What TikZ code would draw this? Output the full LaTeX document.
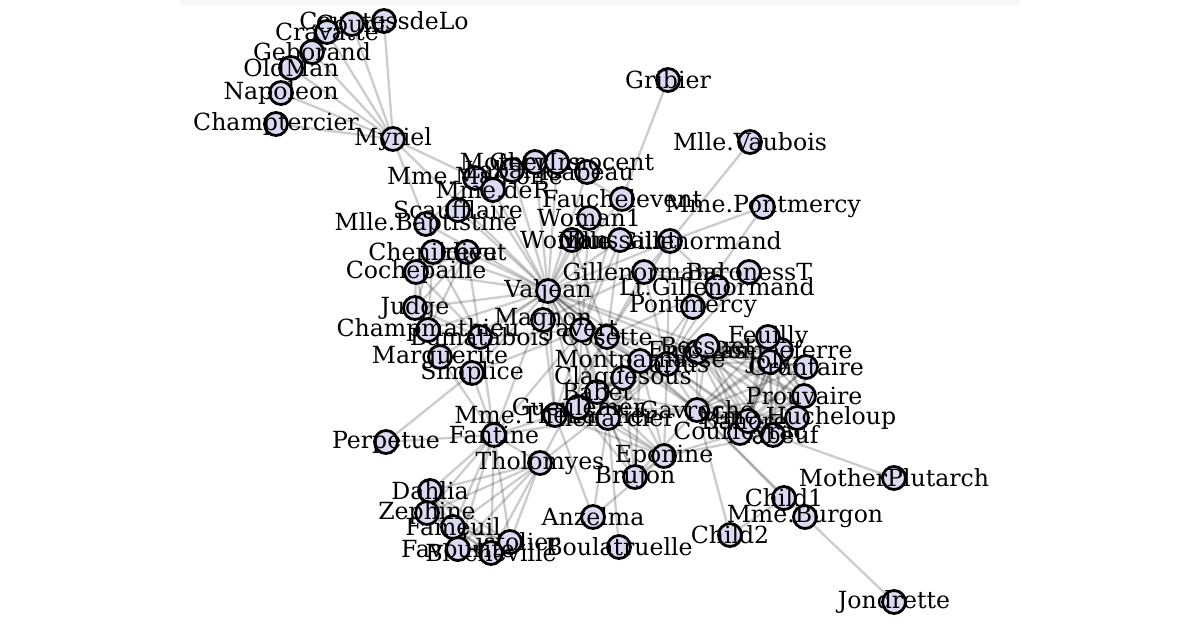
\documentclass[tikz,border=0pt]{standalone}
\usepackage{fontspec}
\setmainfont{DejaVu Serif}
\usetikzlibrary{backgrounds}
\definecolor{personfill}{RGB}{218,218,242}
\tikzset{
  person/.style={circle,draw=black,line width=1.4pt,fill=personfill,minimum size=11.5pt,inner sep=0pt},
  link/.style={draw=black,opacity=0.2,line width=1.15pt},
  every label/.style={font=\fontsize{11.8}{14}\selectfont,inner sep=0pt}
}
\begin{document}
\begin{tikzpicture}[x=0.5pt,y=-0.5pt]
  \useasboundingbox (0,0) rectangle (1200,630);

  % characters
  \node[person,label={center:Myriel}] (Myriel) at (393,139) {};
  \node[person,label={center:Napoleon}] (Napoleon) at (281,93) {};
  \node[person,label={center:Mlle.Baptistine}] (MlleBaptistine) at (426,224) {};
  \node[person,label={center:Mme.Magloire}] (MmeMagloire) at (475,178) {};
  \node[person,label={center:CountessdeLo}] (CountessdeLo) at (384,21) {};
  \node[person,label={center:Geborand}] (Geborand) at (312,52) {};
  \node[person,label={center:Champtercier}] (Champtercier) at (276,124) {};
  \node[person,label={center:Cravatte}] (Cravatte) at (327,32) {};
  \node[person,label={center:Count}] (Count) at (352,24) {};
  \node[person,label={center:OldMan}] (OldMan) at (291,68) {};
  \node[person,label={center:Labarre}] (Labarre) at (512,170) {};
  \node[person,label={center:Valjean}] (Valjean) at (548,291) {};
  \node[person,label={center:Marguerite}] (Marguerite) at (440,357) {};
  \node[person,label={center:Mme.deR}] (MmedeR) at (493,190) {};
  \node[person,label={center:Isabeau}] (Isabeau) at (587,172) {};
  \node[person,label={center:Gervais}] (Gervais) at (535,162) {};
  \node[person,label={center:Tholomyes}] (Tholomyes) at (540,463) {};
  \node[person,label={center:Listolier}] (Listolier) at (510,542) {};
  \node[person,label={center:Fameuil}] (Fameuil) at (453,527) {};
  \node[person,label={center:Blacheville}] (Blacheville) at (491,553) {};
  \node[person,label={center:Favourite}] (Favourite) at (458,549) {};
  \node[person,label={center:Dahlia}] (Dahlia) at (430,491) {};
  \node[person,label={center:Zephine}] (Zephine) at (427,513) {};
  \node[person,label={center:Fantine}] (Fantine) at (494,435) {};
  \node[person,label={center:Mme.Thenardier}] (MmeThenardier) at (555,415) {};
  \node[person,label={center:Thenardier}] (Thenardier) at (608,418) {};
  \node[person,label={center:Cosette}] (Cosette) at (607,337) {};
  \node[person,label={center:Javert}] (Javert) at (582,330) {};
  \node[person,label={center:Fauchelevent}] (Fauchelevent) at (622,199) {};
  \node[person,label={center:Bamatabois}] (Bamatabois) at (480,337) {};
  \node[person,label={center:Perpetue}] (Perpetue) at (386,442) {};
  \node[person,label={center:Simplice}] (Simplice) at (472,373) {};
  \node[person,label={center:Scaufflaire}] (Scaufflaire) at (458,210) {};
  \node[person,label={center:Woman1}] (Woman1) at (589,218) {};
  \node[person,label={center:Judge}] (Judge) at (415,308) {};
  \node[person,label={center:Champmathieu}] (Champmathieu) at (428,330) {};
  \node[person,label={center:Brevet}] (Brevet) at (467,252) {};
  \node[person,label={center:Chenildieu}] (Chenildieu) at (433,252) {};
  \node[person,label={center:Cochepaille}] (Cochepaille) at (416,272) {};
  \node[person,label={center:Pontmercy}] (Pontmercy) at (693,307) {};
  \node[person,label={center:Boulatruelle}] (Boulatruelle) at (619,547) {};
  \node[person,label={center:Eponine}] (Eponine) at (664,456) {};
  \node[person,label={center:Anzelma}] (Anzelma) at (593,517) {};
  \node[person,label={center:Woman2}] (Woman2) at (572,240) {};
  \node[person,label={center:MotherInnocent}] (MotherInnocent) at (557,162) {};
  \node[person,label={center:Gribier}] (Gribier) at (668,80) {};
  \node[person,label={center:Jondrette}] (Jondrette) at (894,602) {};
  \node[person,label={center:Mme.Burgon}] (MmeBurgon) at (805,517) {};
  \node[person,label={center:Gavroche}] (Gavroche) at (697,410) {};
  \node[person,label={center:Gillenormand}] (Gillenormand) at (644,272) {};
  \node[person,label={center:Magnon}] (Magnon) at (543,320) {};
  \node[person,label={center:Mlle.Gillenormand}] (MlleGillenormand) at (670,241) {};
  \node[person,label={center:Mme.Pontmercy}] (MmePontmercy) at (763,207) {};
  \node[person,label={center:Mlle.Vaubois}] (MlleVaubois) at (750,142) {};
  \node[person,label={center:Lt.Gillenormand}] (LtGillenormand) at (717,287) {};
  \node[person,label={center:Marius}] (Marius) at (667,364) {};
  \node[person,label={center:BaronessT}] (BaronessT) at (749,272) {};
  \node[person,label={center:Mabeuf}] (Mabeuf) at (773,435) {};
  \node[person,label={center:Enjolras}] (Enjolras) at (697,352) {};
  \node[person,label={center:Combeferre}] (Combeferre) at (781,350) {};
  \node[person,label={center:Prouvaire}] (Prouvaire) at (804,396) {};
  \node[person,label={center:Feuilly}] (Feuilly) at (768,337) {};
  \node[person,label={center:Courfeyrac}] (Courfeyrac) at (740,433) {};
  \node[person,label={center:Bahorel}] (Bahorel) at (748,421) {};
  \node[person,label={center:Bossuet}] (Bossuet) at (707,346) {};
  \node[person,label={center:Joly}] (Joly) at (770,362) {};
  \node[person,label={center:Grantaire}] (Grantaire) at (806,367) {};
  \node[person,label={center:MotherPlutarch}] (MotherPlutarch) at (894,478) {};
  \node[person,label={center:Gueulemer}] (Gueulemer) at (578,407) {};
  \node[person,label={center:Babet}] (Babet) at (597,392) {};
  \node[person,label={center:Claquesous}] (Claquesous) at (623,378) {};
  \node[person,label={center:Montparnasse}] (Montparnasse) at (640,361) {};
  \node[person,label={center:Toussaint}] (Toussaint) at (620,240) {};
  \node[person,label={center:Child1}] (Child1) at (784,498) {};
  \node[person,label={center:Child2}] (Child2) at (730,535) {};
  \node[person,label={center:Brujon}] (Brujon) at (635,477) {};
  \node[person,label={center:Mme.Hucheloup}] (MmeHucheloup) at (797,418) {};

  % links, behind the characters
  \begin{scope}[on background layer]
    \fill[white] (0,0) rectangle (1200,630);
    \fill[black!3] (180,0) rectangle (1020,5);

    \begin{scope}[every edge/.style={link}]
      \path (Myriel) edge (Napoleon) edge (MlleBaptistine) edge (MmeMagloire) edge (CountessdeLo)
        edge (Geborand) edge (Champtercier) edge (Cravatte) edge (Count) edge (OldMan) edge (Valjean);
      \path (MlleBaptistine) edge (MmeMagloire) edge (Valjean);
      \path (MmeMagloire) edge (Valjean);
      \path (Valjean) edge (Labarre) edge (Marguerite) edge (MmedeR) edge (Isabeau) edge (Gervais)
        edge (Fantine) edge (MmeThenardier) edge (Thenardier) edge (Cosette) edge (Javert)
        edge (Fauchelevent) edge (Bamatabois) edge (Simplice) edge (Scaufflaire) edge (Woman1)
        edge (Judge) edge (Champmathieu) edge (Brevet) edge (Chenildieu) edge (Cochepaille)
        edge (Woman2) edge (MotherInnocent) edge (Gavroche) edge (Gillenormand) edge (MlleGillenormand)
        edge (Marius) edge (Enjolras) edge (Bossuet) edge (Gueulemer) edge (Babet)
        edge (Claquesous) edge (Montparnasse) edge (Toussaint);
      \path (Tholomyes) edge (Listolier) edge (Fameuil) edge (Blacheville) edge (Favourite)
        edge (Dahlia) edge (Zephine) edge (Fantine) edge (Cosette) edge (Marius);
      \path (Listolier) edge (Fameuil) edge (Blacheville) edge (Favourite) edge (Dahlia) edge (Zephine) edge (Fantine);
      \path (Fameuil) edge (Blacheville) edge (Favourite) edge (Dahlia) edge (Zephine) edge (Fantine);
      \path (Blacheville) edge (Favourite) edge (Dahlia) edge (Zephine) edge (Fantine);
      \path (Favourite) edge (Dahlia) edge (Zephine) edge (Fantine);
      \path (Dahlia) edge (Zephine) edge (Fantine);
      \path (Zephine) edge (Fantine);
      \path (Fantine) edge (Marguerite) edge (MmeThenardier) edge (Thenardier) edge (Javert)
        edge (Bamatabois) edge (Perpetue) edge (Simplice);
      \path (MmeThenardier) edge (Thenardier) edge (Cosette) edge (Javert) edge (Eponine)
        edge (Anzelma) edge (Magnon) edge (Gueulemer) edge (Babet) edge (Claquesous);
      \path (Thenardier) edge (Cosette) edge (Javert) edge (Pontmercy) edge (Boulatruelle)
        edge (Eponine) edge (Anzelma) edge (Gavroche) edge (Marius) edge (Gueulemer)
        edge (Babet) edge (Claquesous) edge (Montparnasse) edge (Brujon);
      \path (Cosette) edge (Javert) edge (Woman2) edge (Gillenormand) edge (MlleGillenormand)
        edge (LtGillenormand) edge (Marius) edge (Toussaint);
      \path (Javert) edge (Fauchelevent) edge (Bamatabois) edge (Simplice) edge (Woman1)
        edge (Woman2) edge (Gavroche) edge (Enjolras) edge (Gueulemer) edge (Babet)
        edge (Claquesous) edge (Montparnasse) edge (Toussaint);
      \path (Fauchelevent) edge (MotherInnocent) edge (Gribier);
      \path (Bamatabois) edge (Judge) edge (Champmathieu) edge (Brevet) edge (Chenildieu) edge (Cochepaille);
      \path (Perpetue) edge (Simplice);
      \path (Judge) edge (Champmathieu) edge (Brevet) edge (Chenildieu) edge (Cochepaille);
      \path (Champmathieu) edge (Brevet) edge (Chenildieu) edge (Cochepaille);
      \path (Brevet) edge (Chenildieu) edge (Cochepaille);
      \path (Chenildieu) edge (Cochepaille);
      \path (Pontmercy) edge (MmePontmercy) edge (Marius);
      \path (Eponine) edge (Anzelma) edge (Marius) edge (Mabeuf) edge (Courfeyrac) edge (Gueulemer)
        edge (Babet) edge (Claquesous) edge (Montparnasse) edge (Brujon);
      \path (Jondrette) edge (MmeBurgon);
      \path (MmeBurgon) edge (Gavroche);
      \path (Gavroche) edge (Marius) edge (Mabeuf) edge (Enjolras) edge (Combeferre) edge (Prouvaire)
        edge (Feuilly) edge (Courfeyrac) edge (Bahorel) edge (Bossuet) edge (Joly) edge (Grantaire)
        edge (Gueulemer) edge (Babet) edge (Montparnasse) edge (Child1) edge (Child2)
        edge (Brujon) edge (MmeHucheloup);
      \path (Gillenormand) edge (Magnon) edge (MlleGillenormand) edge (LtGillenormand) edge (Marius) edge (BaronessT);
      \path (MlleGillenormand) edge (MmePontmercy) edge (MlleVaubois) edge (LtGillenormand) edge (Marius);
      \path (LtGillenormand) edge (Marius);
      \path (Marius) edge (BaronessT) edge (Mabeuf) edge (Enjolras) edge (Combeferre) edge (Feuilly)
        edge (Courfeyrac) edge (Bahorel) edge (Bossuet) edge (Joly);
      \path (Mabeuf) edge (Enjolras) edge (Combeferre) edge (Feuilly) edge (Courfeyrac) edge (Bahorel)
        edge (Bossuet) edge (Joly) edge (MotherPlutarch);
      \path (Enjolras) edge (Combeferre) edge (Prouvaire) edge (Feuilly) edge (Courfeyrac) edge (Bahorel)
        edge (Bossuet) edge (Joly) edge (Grantaire) edge (Claquesous) edge (MmeHucheloup);
      \path (Combeferre) edge (Prouvaire) edge (Feuilly) edge (Courfeyrac) edge (Bahorel)
        edge (Bossuet) edge (Joly) edge (Grantaire);
      \path (Prouvaire) edge (Feuilly) edge (Courfeyrac) edge (Bahorel) edge (Bossuet) edge (Joly) edge (Grantaire);
      \path (Feuilly) edge (Courfeyrac) edge (Bahorel) edge (Bossuet) edge (Joly) edge (Grantaire);
      \path (Courfeyrac) edge (Bahorel) edge (Bossuet) edge (Joly) edge (Grantaire) edge (MmeHucheloup);
      \path (Bahorel) edge (Bossuet) edge (Joly) edge (Grantaire) edge (MmeHucheloup);
      \path (Bossuet) edge (Joly) edge (Grantaire) edge (MmeHucheloup);
      \path (Joly) edge (Grantaire) edge (MmeHucheloup);
      \path (Grantaire) edge (MmeHucheloup);
      \path (Gueulemer) edge (Babet) edge (Claquesous) edge (Montparnasse) edge (Brujon);
      \path (Babet) edge (Claquesous) edge (Montparnasse) edge (Brujon);
      \path (Claquesous) edge (Montparnasse) edge (Brujon);
      \path (Montparnasse) edge (Brujon);
      \path (Child1) edge (Child2);
    \end{scope}
  \end{scope}

\end{tikzpicture}
\end{document}
